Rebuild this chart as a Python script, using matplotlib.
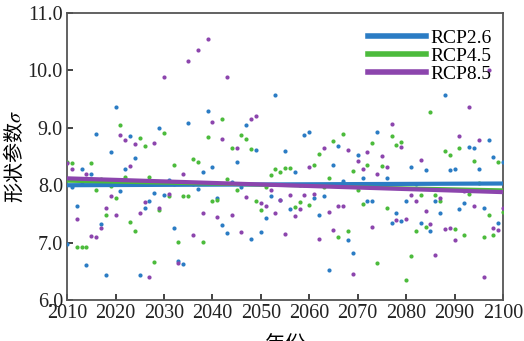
import numpy as np
import matplotlib
matplotlib.use("Agg")
import matplotlib.pyplot as plt

years = np.arange(2010, 2101)

rcp26 = [6.97, 7.97, 7.63, 8.28, 6.61, 8.19, 8.89, 7.32, 6.43, 8.58,
         9.37, 7.90, 8.29, 8.85, 8.48, 6.43, 7.60, 7.72, 7.86, 9.00,
         7.83, 8.09, 7.26, 6.68, 6.63, 9.09, 8.02, 7.93, 8.23, 9.30,
         8.32, 7.78, 7.30, 7.16, 8.06, 8.41, 7.97, 9.05, 7.06, 8.62,
         7.19, 7.43, 7.81, 9.58, 7.75, 8.59, 7.59, 8.23, 8.00, 8.88,
         8.93, 7.78, 7.48, 7.81, 6.53, 8.35, 8.69, 8.07, 7.04, 6.82,
         8.52, 8.12, 7.72, 7.72, 8.93, 8.03, 8.12, 7.34, 7.51, 7.38,
         7.72, 8.32, 8.02, 7.35, 8.27, 7.20, 7.72, 7.51, 9.58, 8.26,
         8.28, 7.58, 7.69, 8.67, 8.65, 8.28, 7.60, 8.79, 8.50, 7.35,
         8.41]

rcp45 = [8.41, 8.39, 6.93, 6.93, 6.93, 8.39, 7.92, 8.11, 7.49, 7.99,
         7.78, 9.05, 8.14, 7.36, 7.21, 8.83, 8.68, 8.15, 6.67, 7.57,
         8.91, 7.81, 8.36, 7.01, 7.81, 7.81, 8.46, 8.41, 7.02, 8.84,
         7.72, 7.75, 9.16, 8.10, 8.65, 7.91, 8.87, 8.81, 8.63, 7.72,
         7.56, 7.97, 8.17, 8.28, 8.23, 8.30, 8.30, 7.62, 7.71, 8.00,
         7.65, 8.35, 8.54, 7.97, 8.12, 8.77, 7.09, 8.90, 7.20, 8.24,
         7.92, 7.67, 8.35, 8.74, 6.64, 8.34, 7.60, 8.86, 8.70, 8.75,
         6.35, 6.76, 7.20, 7.83, 7.28, 9.28, 7.83, 7.72, 8.60, 8.53,
         7.23, 8.65, 7.14, 7.85, 8.43, 8.04, 7.10, 7.49, 7.14, 8.40,
         7.54]

rcp85 = [8.39, 8.28, 7.41, 8.03, 8.19, 7.12, 7.10, 7.25, 7.60, 7.82,
         7.48, 8.87, 8.78, 8.33, 8.72, 7.51, 7.71, 6.41, 8.73, 7.60,
         9.88, 7.85, 8.03, 6.65, 8.20, 10.16, 7.14, 10.35, 7.51, 10.55,
         9.10, 7.45, 8.80, 9.88, 7.48, 8.65, 7.18, 7.80, 9.15, 9.20,
         7.69, 7.63, 7.92, 7.52, 7.74, 7.15, 7.83, 7.47, 7.58, 7.83,
         8.31, 7.85, 7.07, 8.64, 7.54, 7.22, 7.64, 7.64, 8.62, 6.45,
         8.42, 8.28, 8.57, 7.27, 8.19, 8.51, 8.31, 9.06, 7.39, 8.66,
         7.42, 7.83, 7.73, 8.44, 7.55, 7.33, 6.78, 7.78, 7.23, 7.25,
         7.04, 8.86, 7.90, 9.37, 7.64, 8.78, 6.41, 10.00, 7.25, 7.22,
         7.61]

labels = ["RCP2.6", "RCP4.5", "RCP8.5"]
colors = ["#2b7cc4", "#4cbb3c", "#8c45ad"]
# linear trend, value at 2010 and at 2100
trend_start = [8.00, 8.07, 8.12]
trend_end = [8.03, 7.92, 7.88]
trend_width = [3.0, 2.2, 3.0]

plt.rcParams["font.family"] = ["Liberation Serif", "Noto Sans CJK SC"]
plt.rcParams["mathtext.fontset"] = "stix"

fig = plt.figure(figsize=(5.24, 3.41), dpi=100)
ax = fig.add_axes([0.128, 0.12, 0.832, 0.842])

for vals, c in zip([rcp26, rcp45, rcp85], colors):
    ax.scatter(years, vals, s=9, color=c, linewidths=0, zorder=3)

for i in range(3):
    ax.plot([years[0], years[-1]], [trend_start[i], trend_end[i]],
            color=colors[i], lw=trend_width[i], label=labels[i], zorder=4)

ax.set_xlim(2010, 2100)
ax.set_ylim(6.0, 11.0)
ax.set_xticks(np.arange(2010, 2101, 10))
ax.set_yticks(np.arange(6.0, 11.01, 1.0))
ax.set_yticklabels([f"{v:.1f}" for v in np.arange(6.0, 11.01, 1.0)])
ax.tick_params(direction="in", length=4, width=1.2, labelsize=14.5,
               colors="#222222", pad=3)
for sp in ax.spines.values():
    sp.set_color("#555555")
    sp.set_linewidth(1.3)

cjk = ["Noto Sans CJK SC", "DejaVu Sans"]
ax.set_ylabel("形状参数$\\sigma$", fontsize=14.5, family=cjk, labelpad=1)
ax.set_xlabel("年份", fontsize=14.5, family=cjk, labelpad=8)

leg = ax.legend(loc="upper right", frameon=False, fontsize=14,
                handlelength=3.0, handletextpad=0.2, labelspacing=0.02,
                borderaxespad=0.2, bbox_to_anchor=(1.0, 0.985))
for h in leg.get_lines():
    h.set_linewidth(4)

fig.savefig("out.png", dpi=100)
